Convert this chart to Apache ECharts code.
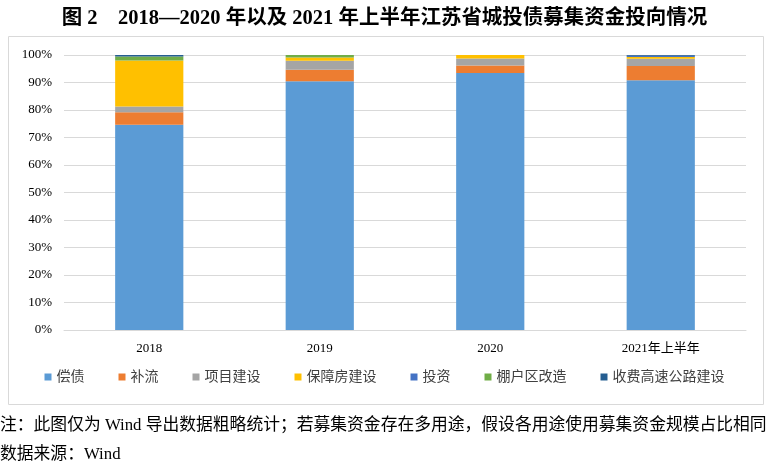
<!DOCTYPE html>
<html>
<head>
<meta charset="utf-8">
<script src="https://cdn.jsdelivr.net/npm/echarts@6/dist/echarts.min.js"></script>
<style>
  html, body { margin: 0; padding: 0; background: #fff; }
  #main { width: 769px; height: 473px; }
</style>
</head>
<body>
<div id="main"></div>
<script>
// 年份
var categories = ['2018', '2019', '2020', '2021年上半年'];
// 各用途占比（%）
var changzhai = [74.6, 90.5, 93.5, 90.8];
var buliu = [4.6, 4.1, 2.7, 5.2];
var xiangmu = [2.1, 3.3, 2.5, 2.6];
var baozhangfang = [16.7, 1.2, 1.3, 0.7];
var touzi = [0, 0, 0, 0.4];
var penghuqu = [1.5, 0.9, 0, 0];
var gaosu = [0.5, 0, 0, 0.3];
var yTicks = ['0%', '10%', '20%', '30%', '40%', '50%', '60%', '70%', '80%', '90%', '100%'];

var names = ['偿债', '补流', '项目建设', '保障房建设', '投资', '棚户区改造', '收费高速公路建设'];
var colors = ['#5B9BD5', '#ED7D31', '#A5A5A5', '#FFC000', '#4472C4', '#70AD47', '#255E91'];
var values = [changzhai, buliu, xiangmu, baozhangfang, touzi, penghuqu, gaosu];

var serif = 'Liberation Serif, Noto Sans CJK SC';

var myChart = echarts.init(document.getElementById('main'));

var series = names.map(function (n, i) {
    return {
        name: n,
        type: 'bar',
        stack: 'total',
        barWidth: '40%',
        data: values[i],
        itemStyle: { color: colors[i] }
    };
});

var option = {
    animation: false,
    color: colors,
    title: {
        text: '图 2　2018—2020 年以及 2021 年上半年江苏省城投债募集资金投向情况',
        left: 'center',
        top: 3,
        textStyle: {
            fontFamily: serif,
            fontWeight: 'bold',
            fontSize: 20.5,
            color: '#000'
        }
    },
    graphic: [
        {
            type: 'rect',
            shape: { x: 8.5, y: 36.5, width: 755, height: 368 },
            style: { fill: 'none', stroke: '#d9d9d9', lineWidth: 1 },
            z: -1
        },
        {
            type: 'text',
            left: 0,
            top: 417,
            style: {
                text: '注：此图仅为 Wind 导出数据粗略统计；若募集资金存在多用途，假设各用途使用募集资金规模占比相同',
                font: '16.8px ' + serif,
                fill: '#000'
            }
        },
        {
            type: 'text',
            left: 0,
            top: 446,
            style: {
                text: '数据来源：Wind',
                font: '16.8px ' + serif,
                fill: '#000'
            }
        }
    ],
    legend: {
        data: names,
        bottom: 84,
        left: 'center',
        itemWidth: 7,
        itemHeight: 7,
        itemGap: 34,
        icon: 'rect',
        textStyle: { fontFamily: serif, fontSize: 14, color: '#404040' }
    },
    grid: { left: 64, right: 23, top: 55, bottom: 143 },
    xAxis: {
        type: 'category',
        data: categories,
        axisLine: { lineStyle: { color: '#d9d9d9' } },
        axisTick: { show: false },
        axisLabel: { fontFamily: serif, fontSize: 13, color: '#000', margin: 12 }
    },
    yAxis: {
        type: 'value',
        min: 0,
        max: 100,
        interval: 10,
        axisLine: { show: false },
        axisTick: { show: false },
        splitLine: { lineStyle: { color: '#d9d9d9' } },
        axisLabel: {
            fontFamily: serif,
            fontSize: 13,
            color: '#000',
            margin: 12,
            formatter: function (v) { return yTicks[Math.round(v / 10)]; }
        }
    },
    series: series
};

myChart.setOption(option);
</script>
</body>
</html>
